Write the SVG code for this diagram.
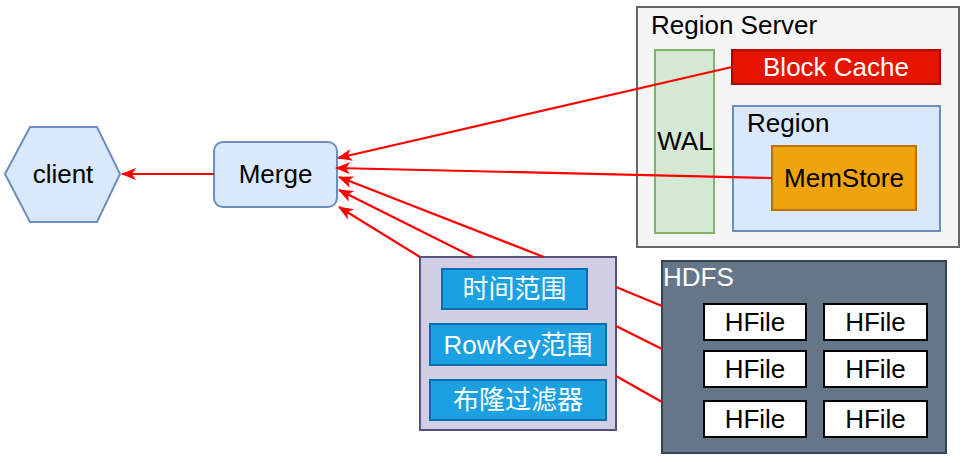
<svg xmlns="http://www.w3.org/2000/svg" width="966" height="463" viewBox="0 0 966 463">
<defs>
<style>
text{font-family:"Liberation Sans","Noto Sans CJK SC",Arial,sans-serif;font-size:26px;fill:#000}
.c{text-anchor:middle;dominant-baseline:central}
.w{fill:#fff}
.ln{stroke:#ff0000;stroke-width:2.2;fill:none}
.hf{fill:#fff;stroke:#000;stroke-width:2}
.flt{fill:#1ba1e2;stroke:#006eaf;stroke-width:2}
</style>
<marker id="a" markerWidth="16" markerHeight="16" refX="14" refY="8" orient="auto" markerUnits="userSpaceOnUse">
<path d="M0,2 L15,8 L0,14 L4,8 Z" fill="#ff0000"/>
</marker>
</defs>
<g id="regionserver">
<rect x="637" y="7" width="322" height="240" fill="#f5f5f5" stroke="#666666" stroke-width="2"/>
<text x="651" y="34">Region Server</text>
</g>
<g id="wal">
<rect x="655" y="50" width="59" height="183" fill="#d5e8d4" stroke="#82b366" stroke-width="2"/>
<text class="c" x="685" y="141">WAL</text>
</g>
<g id="blockcache">
<rect x="732" y="50" width="208" height="34" fill="#e51400" stroke="#b20000" stroke-width="2"/>
<text class="c w" x="836" y="67">Block Cache</text>
</g>
<g id="region">
<rect x="733" y="106" width="207" height="125" fill="#dae8fc" stroke="#6c8ebf" stroke-width="2"/>
<text x="747" y="132">Region</text>
</g>
<g id="memstore">
<rect x="772" y="146" width="144" height="64" fill="#f0a30a" stroke="#bd7000" stroke-width="2"/>
<text class="c" x="844" y="178">MemStore</text>
</g>
<g id="client">
<polygon points="5,174 30,127 97,127 120,174 97,222 30,222" fill="#dae8fc" stroke="#6c8ebf" stroke-width="2"/>
<text class="c" x="63" y="174">client</text>
</g>
<g id="merge">
<rect x="214" y="142" width="123" height="65" rx="9" fill="#dae8fc" stroke="#6c8ebf" stroke-width="2"/>
<text class="c" x="275.5" y="174">Merge</text>
</g>
<g id="filters">
<rect x="420" y="257" width="196" height="173" fill="#d0cee2" stroke="#56517e" stroke-width="2"/>
</g>
<g id="filter-time">
<rect class="flt" x="442" y="269" width="145" height="40"/>
<text class="c w" x="514.5" y="289">时间范围</text>
</g>
<g id="filter-rowkey">
<rect class="flt" x="430" y="324" width="176" height="41"/>
<text class="c w" x="518" y="344.5">RowKey范围</text>
</g>
<g id="filter-bloom">
<rect class="flt" x="430" y="380" width="176" height="40"/>
<text class="c w" x="518" y="400">布隆过滤器</text>
</g>
<g id="hdfs">
<rect x="662" y="261" width="284" height="192" fill="#647687" stroke="#314354" stroke-width="2"/>
<text class="w" x="663" y="286">HDFS</text>
</g>
<g id="hfile1"><rect class="hf" x="704" y="304" width="102" height="36"/><text class="c" x="755" y="322">HFile</text></g>
<g id="hfile2"><rect class="hf" x="824" y="304" width="103" height="36"/><text class="c" x="875.5" y="322">HFile</text></g>
<g id="hfile3"><rect class="hf" x="704" y="351" width="102" height="36"/><text class="c" x="755" y="369">HFile</text></g>
<g id="hfile4"><rect class="hf" x="824" y="351" width="103" height="36"/><text class="c" x="875.5" y="369">HFile</text></g>
<g id="hfile5"><rect class="hf" x="704" y="401" width="102" height="36"/><text class="c" x="755" y="419">HFile</text></g>
<g id="hfile6"><rect class="hf" x="824" y="401" width="103" height="36"/><text class="c" x="875.5" y="419">HFile</text></g>
<g id="connectors">
<line class="ln" x1="214" y1="174" x2="122" y2="174" marker-end="url(#a)"/>
<line class="ln" x1="732" y1="67" x2="338" y2="158" marker-end="url(#a)"/>
<line class="ln" x1="772" y1="178" x2="336" y2="168" marker-end="url(#a)"/>
<line class="ln" x1="544" y1="257" x2="339" y2="177" marker-end="url(#a)"/>
<line class="ln" x1="473" y1="257" x2="339" y2="190" marker-end="url(#a)"/>
<line class="ln" x1="420" y1="257" x2="339" y2="207" marker-end="url(#a)"/>
<line class="ln" x1="616" y1="287" x2="662" y2="306"/>
<line class="ln" x1="616" y1="326" x2="662" y2="349"/>
<line class="ln" x1="616" y1="376" x2="662" y2="402"/>
</g>
</svg>
